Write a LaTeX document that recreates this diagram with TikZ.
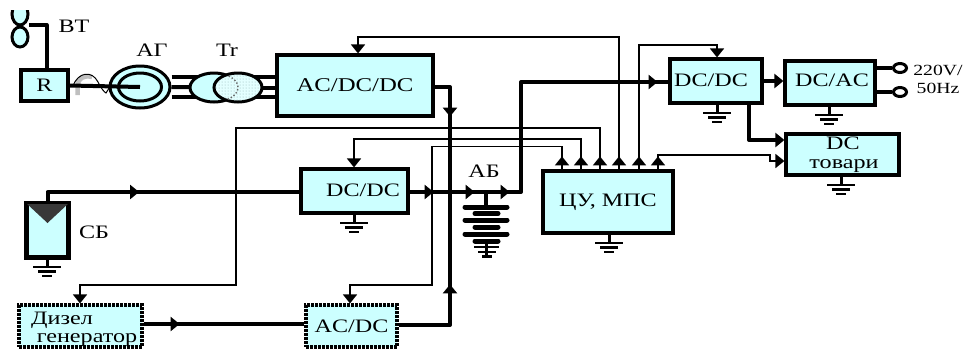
\documentclass[tikz,border=0pt]{standalone}
\usepackage{fontspec}
\setmainfont[FakeStretch=1.27]{Liberation Serif}
\usetikzlibrary{arrows.meta,decorations.markings,patterns,shapes.geometric}
\definecolor{unitfill}{HTML}{CCFFFF}

\begin{document}
\begin{tikzpicture}[%
    x=1pt,
    y=-1pt,
    >={Triangle[width=14pt,length=9pt]},
    font=\fontsize{19}{21}\selectfont,
    unit/.style={%
      rectangle,
      inner sep=0pt,
      fill=unitfill,
      line width=3.2pt,
      draw
    },
    aux/.style={%
      unit,
      dash pattern=on 2.6pt off 1.4pt
    },
    coil/.style={%
      ellipse,
      inner sep=0pt,
      fill=unitfill,
      line width=3pt,
      draw
    },
    bus/.style={line width=4pt,line join=round},
    sig/.style={line width=1.8pt},
    plate/.style={line width=5pt,line cap=round},
    tipat/.style={postaction={decorate,decoration={markings,mark=at position #1 with {\arrow{>}}}}},
    small/.style={font=\fontsize{15.5}{17}\selectfont},
    gnd/.pic={%
      \draw[line width=3pt] (0,0) -- (0,9);
      \draw[line width=2.8pt] (-14,10) -- (14,10);
      \draw[line width=2.8pt] (-9,14.5) -- (9,14.5);
      \draw[line width=2.8pt] (-5,19) -- (5,19);
    }
  ]
    \useasboundingbox (0,0) rectangle (967,349);

    % sources and converters
    \node[unit, minimum width=47pt, minimum height=31pt]   (r)     at (44.5,85.5)  {R};
    \node[unit, minimum width=156pt, minimum height=61pt, font=\fontsize{19.5}{21}\selectfont] (acdcdc) at (355,85.5) {AC/DC/DC};
    \node[unit, minimum width=107pt, minimum height=44pt]  (dcdcb) at (354.5,191)  {};
    \node[unit, minimum width=130pt, minimum height=62pt]  (mcu)   at (608,202)    {ЦУ, МПС};
    \node[unit, minimum width=92pt, minimum height=44pt]   (dcdcr) at (716,81)     {};
    \node[unit, minimum width=90pt, minimum height=44pt]   (dcac)  at (830,83)     {};
    \node[unit, minimum width=113pt, minimum height=41pt]  (load)  at (842.5,154.5) {};
    \node[unit, minimum width=41pt, minimum height=53pt]   (sb)    at (47.5,230.5) {};
    \node[aux, minimum width=123pt, minimum height=42pt]   (dg)    at (80.5,326)   {};
    \node[aux, minimum width=91pt, minimum height=42pt]    (acdc)  at (351.5,326)  {AC/DC};

    \node (dcdcbt)  at (363,190)  {DC/DC};
    \node (dcdcrt)  at (711,80)   {DC/DC};
    \node (dcact)   at (832,80)   {DC/AC};
    \node (loadt)   at (843,143)  {DC};
    \node (loadb)   at (844,166)  {товари};
    \node (dgt)     at (62,320)   {Дизел};
    \node (dgb)     at (87,340)   {генератор};
    \node (btlabel) at (74,26)    {ВТ};
    \node (aglabel) at (152,50)   {АГ};
    \node (trlabel) at (227,50)   {Tr};
    \node (sblabel) at (94,232)   {СБ};
    \node (ablabel) at (484,171)  {АБ};
    \node[small] (vlabel) at (938,70) {220V/};
    \node[small] (hzlabel) at (938,88) {50Hz};

    % solar cell corner
    \fill[black!78] (sb.north west) -- (sb.north east) -- (47.5,223) -- cycle;
    \draw[line width=3pt] (sb.north west) rectangle (sb.south east);

    % wind turbine
    \begin{scope}
      \clip (0,10) rectangle (40,30);
      \node[coil, minimum width=16pt, minimum height=22pt] (fana) at (20,14) {};
    \end{scope}
    \node[coil, minimum width=16pt, minimum height=20pt] (fanb) at (20,37) {};
    \coordinate (hub) at (29,25);
    \coordinate (hubr) at (46.5,25);
    \draw[bus] (hub) -- (hubr) -- (hubr |- r.north);

    % shaft and coupling
    \draw[line width=4.5pt, gray!50] (77.5,95) -- (77.5,86) .. controls (78,78) and (84,75) .. (92,77);
    \draw[line width=1pt] (73,86) .. controls (78,72) and (92,70) .. (98,82)
                           .. controls (101,88) and (104,92) .. (106,93) -- (111,85);

    % generator
    \node[coil, minimum width=60pt, minimum height=42pt] (gen)  at (140,87) {};
    \node[coil, minimum width=43pt, minimum height=28pt] (genc) at (140,87) {};
    \draw[line width=4pt] (r.east) -- (genc.center);

    % transformer
    \draw[bus] (gen.east |- 0,77) -- (214,77);
    \draw[bus] (gen.east) -- (214,87.5);
    \draw[bus] (gen.east |- 0,97) -- (214,97);
    \node[coil, minimum width=48pt, minimum height=29pt] (tra) at (214,87.5) {};
    \draw[bus] (238,77) -- (acdcdc.west |- 0,77);
    \draw[bus] (238,87.5) -- (acdcdc.west |- 0,87.5);
    \draw[bus] (238,97) -- (acdcdc.west |- 0,97);
    \node[coil, minimum width=48pt, minimum height=29pt, fill=unitfill!55!white] (trb) at (238,87.5) {};
    \fill[pattern=dots, pattern color=unitfill!70!black] (238,87.5) ellipse (22pt and 13pt);
    \draw[line width=1.4pt, dotted, black!60] (tra.center) ++(-55:24pt and 14.5pt) arc (-55:55:24pt and 14.5pt);

    % power lines
    \coordinate (dcbus) at (450,192);
    \coordinate (batt) at (486,192);
    \coordinate (rise) at (521,192);
    \draw[bus,tipat=45pt]  (acdcdc.east |- 0,87) -- (450,87) -- (dcbus);
    \draw[bus,tipat=92pt]  (acdc.east |- 0,325) -- (450,325) -- (dcbus);
    \draw[bus,tipat=102pt] (sb.north) -- (47.5,192) -- (dcdcb.west |- 0,192);
    \draw[bus,tipat=36pt]  (dg.east |- 0,324) -- (acdc.west |- 0,324);
    \draw[bus,tipat=24pt,tipat=65pt,tipat=100pt,tipat=358pt] (dcdcb.east |- 0,192) -- (rise) -- (521,82) -- (dcdcr.west |- 0,82);
    \draw[bus,->] (dcdcr.east) -- (dcac.west |- dcdcr.east);
    \draw[bus,->] (749,103) -- (749,140) -- (load.west |- 0,140);

    % battery
    \draw[line width=4pt] (batt) -- (486,207);
    \draw[plate] (465,207) -- (507,207);
    \draw[plate] (475,213.5) -- (498,213.5);
    \draw[plate] (465,220) -- (507,220);
    \draw[plate] (475,227) -- (498,227);
    \draw[plate] (465,234) -- (507,234);
    \draw[plate] (475,241) -- (498,241);
    \draw[line width=3pt] (486,241) -- (486,256);
    \draw[line width=2.8pt] (474,247) -- (499,247);
    \draw[line width=2.8pt] (478,252) -- (496,252);
    \draw[line width=2.8pt] (482,256.5) -- (492,256.5);

    % control lines
    \draw[sig,tipat=13pt,->] (mcu.north -| 562,0) -- (562,146.5) -- (432,146.5) -- (432,285) -- (350,285) -- (acdc.north -| 350,0);
    \draw[sig,tipat=13pt,->] (mcu.north -| 581,0) -- (581,139) -- (354,139) -- (dcdcb.north -| 354,0);
    \draw[sig,tipat=13pt,->] (mcu.north -| 600,0) -- (600,128) -- (236,128) -- (236,285) -- (80,285) -- (dg.north -| 80,0);
    \draw[sig,tipat=13pt,->] (mcu.north -| 619,0) -- (619,37) -- (358,37) -- (acdcdc.north -| 358,0);
    \draw[sig,tipat=13pt,->] (mcu.north -| 639,0) -- (639,45) -- (717,45) -- (dcdcr.north -| 717,0);
    \draw[sig,tipat=13pt,->] (mcu.north -| 658,0) -- (658,155) -- (770,155) -- (770,161) -- (load.west |- 0,161);

    % output terminals
    \node[ellipse, inner sep=0pt, line width=3pt, draw, minimum width=13pt, minimum height=9pt] (outa) at (900,68) {};
    \node[ellipse, inner sep=0pt, line width=3pt, draw, minimum width=13pt, minimum height=9pt] (outb) at (900,92) {};
    \draw[bus] (dcac.east |- outa) -- (outa);
    \draw[bus] (dcac.east |- outb) -- (outb);

    % grounds
    \pic at (717,103) {gnd};
    \pic at (829,105) {gnd};
    \pic at (841,175) {gnd};
    \pic at (609,233) {gnd};
    \pic at (354,213) {gnd};
    \pic at (47,257) {gnd};
\end{tikzpicture}
\end{document}
